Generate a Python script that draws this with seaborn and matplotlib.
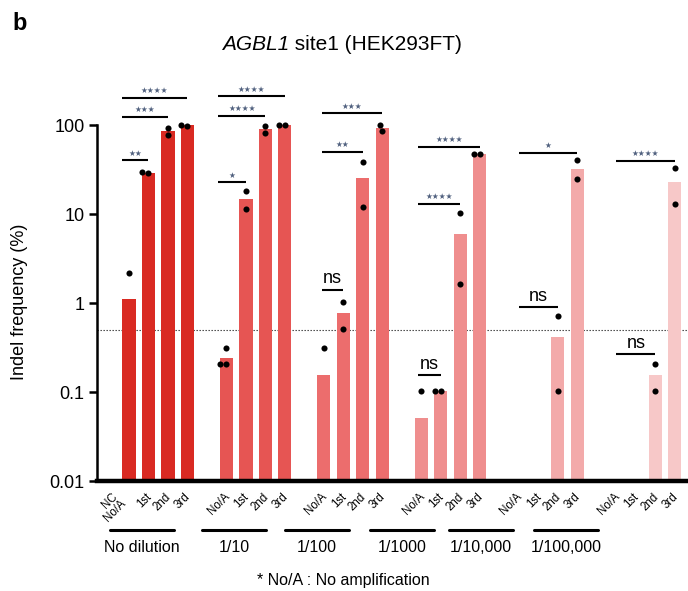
import matplotlib
matplotlib.use("Agg")
import matplotlib.pyplot as plt
import matplotlib.transforms as mtransforms
from matplotlib.lines import Line2D
from matplotlib.ticker import NullLocator
import numpy as np
import pandas as pd
import seaborn as sns

#-Groups / PCR rounds
groups = ["No dilution", "1/10", "1/100", "1/1000", "1/10,000", "1/100,000"]
rounds = ["No/A", "1st", "2nd", "3rd"]
colors = ["#d92a22", "#e65553", "#ec6d6d", "#ef8e8e", "#f3aaaa", "#f7c8c8"]

#-Replicate indel frequencies (%) per round, 0 = not detected
nodil_reps = [[2.2, 0.0], [29.0, 29.6], [94.0, 77.0], [99.0, 100.0]]
d10_reps = [[0.31, 0.205, 0.205], [18.2, 11.3], [98.0, 82.0], [100.0, 100.0]]
d100_reps = [[0.31, 0.0], [1.03, 0.51], [38.6, 11.9], [101.0, 87.0]]
d1000_reps = [[0.103, 0.0], [0.103, 0.103], [10.4, 1.64], [47.0, 47.0]]
d10k_reps = [[0.0, 0.0], [0.0, 0.0], [0.72, 0.103], [40.4, 24.6]]
d100k_reps = [[0.0, 0.0], [0.0, 0.0], [0.206, 0.103], [33.0, 13.0]]
all_reps = [nodil_reps, d10_reps, d100_reps, d1000_reps, d10k_reps, d100k_reps]

#-Significance vs No/A: (group, round idx, label, line height)
comparisons = [
    (0, 1, "**", 40.4), (0, 2, "***", 124), (0, 3, "****", 203),
    (1, 1, "*", 22.8), (1, 2, "****", 128), (1, 3, "****", 210),
    (2, 1, "ns", 1.42), (2, 2, "**", 50), (2, 3, "***", 137),
    (3, 1, "ns", 0.155), (3, 2, "****", 13.1), (3, 3, "****", 57),
    (4, 2, "ns", 0.9), (4, 3, "*", 48.7),
    (5, 2, "ns", 0.27), (5, 3, "****", 40),
]
# where each bracket starts, relative to No/A bar
start_off = [-0.36, -0.41, -0.12, -0.2, 0.0, 0.0]

threshold = 0.5

rows = []
for g, grp in enumerate(groups):
    for j, rnd in enumerate(rounds):
        for v in all_reps[g][j]:
            rows.append(dict(group=grp, rnd=rnd, pos=g * 5 + j, value=v))
df = pd.DataFrame(rows)

sns.set_style("ticks")
plt.rcParams["font.family"] = ["Liberation Sans", "DejaVu Sans"]
for k in ["text.color", "axes.labelcolor", "xtick.color", "ytick.color", "axes.edgecolor"]:
    plt.rcParams[k] = "black"

W, H = 688, 591
fig = plt.figure(figsize=(W / 100, H / 100), dpi=100)
ax = fig.add_axes([97 / W, 1 - 481 / H, 1 - 97 / W, (481 - 82.7) / H])

sns.barplot(data=df, x="pos", y="value", hue="group", hue_order=groups,
            palette=colors, native_scale=True, estimator="mean", errorbar=None,
            width=0.67, dodge=False, legend=False, saturation=1, linewidth=0, ax=ax)

ax.set_yscale("log")
ax.set_ylim(0.01, 300)
ax.set_xlim(-1.64, 28.67)

sns.swarmplot(data=df[df.value > 0], x="pos", y="value", native_scale=True,
              color="black", size=4.4, ax=ax)

ax.axhline(threshold, color="#333333", lw=0.8, ls=(0, (1.2, 1.5)), zorder=0.5)

#-Axes styling
ax.spines["top"].set_visible(False)
ax.spines["right"].set_visible(False)
ax.spines["left"].set_bounds(0.01, 100)
ax.spines["left"].set_linewidth(1.8)
ax.spines["bottom"].set_linewidth(3.2)
ax.spines["bottom"].set_zorder(5)
ax.set_yticks([0.01, 0.1, 1, 10, 100])
ax.set_yticklabels(["0.01", "0.1", "1", "10", "100"], fontsize=13)
ax.yaxis.set_minor_locator(NullLocator())
ax.tick_params(axis="y", length=6, width=1.8, pad=3)
ax.set_ylabel("")
ax.set_xlabel("")

ticks = [-1] + [g * 5 + j for g in range(len(groups)) for j in range(len(rounds))]
tlabels = ["NC"] + rounds * len(groups)
ax.set_xticks(ticks)
ax.set_xticklabels(tlabels, rotation=45, ha="right", rotation_mode="anchor", fontsize=8.3)
ax.tick_params(axis="x", length=0, pad=7.2)
shift = mtransforms.ScaledTranslation(-3 / 100, 0, fig.dpi_scale_trans)
nc_shift = mtransforms.ScaledTranslation(2 / 100, 0, fig.dpi_scale_trans)
noa_shift = mtransforms.ScaledTranslation(-9 / 100, -7 / 100, fig.dpi_scale_trans)
for i, lab in enumerate(ax.get_xticklabels()):
    # first No/A sits lower to leave room for NC
    s = nc_shift if i == 0 else (noa_shift if i == 1 else shift)
    lab.set_transform(lab.get_transform() + s)

#-Significance brackets
for g, t, lab, yv in comparisons:
    x0 = g * 5 + start_off[g]
    x1 = g * 5 + t
    ax.plot([x0, x1], [yv, yv], color="black", lw=1.5, clip_on=False,
            solid_capstyle="butt")
    if lab == "ns":
        ax.annotate("ns", xy=((x0 + x1) / 2, yv), xytext=(0, 1.5),
                    textcoords="offset points", ha="center", va="bottom", fontsize=13)
    else:
        ax.annotate("\u2605" * len(lab), xy=((x0 + x1) / 2, yv), xytext=(0, 1.8),
                    textcoords="offset points", ha="center", va="bottom",
                    fontsize=5.5, color="#50607e", family="DejaVu Sans")

#-Group underlines and names
label_cx = [142, 234, 317, 402, 481, 566]
for cx, name in zip(label_cx, groups):
    fig.add_artist(Line2D([(cx - 32) / W, (cx + 32) / W], [1 - 530 / H] * 2,
                          color="black", lw=2.2, transform=fig.transFigure))
    fig.text(cx / W, 1 - 547 / H, name, ha="center", va="center", fontsize=11.5)

fig.text(343 / W, 1 - 581 / H, "* No/A : No amplification", ha="center",
         va="center", fontsize=11.5)
fig.text(20 / W, 1 - 302 / H, "Indel frequency (%)", rotation=90, ha="center",
         va="center", fontsize=13)
t1 = fig.text(222 / W, 1 - 50 / H, "AGBL1", style="italic", ha="left",
              va="baseline", fontsize=15)
ax.annotate(" site1 (HEK293FT)", xy=(1, 0), xycoords=t1, ha="left", va="bottom",
            fontsize=15, annotation_clip=False)
fig.text(12 / W, 1 - 24 / H, "b", ha="left", va="center", fontsize=17, weight="bold")

fig.savefig("out.png", dpi=100)
